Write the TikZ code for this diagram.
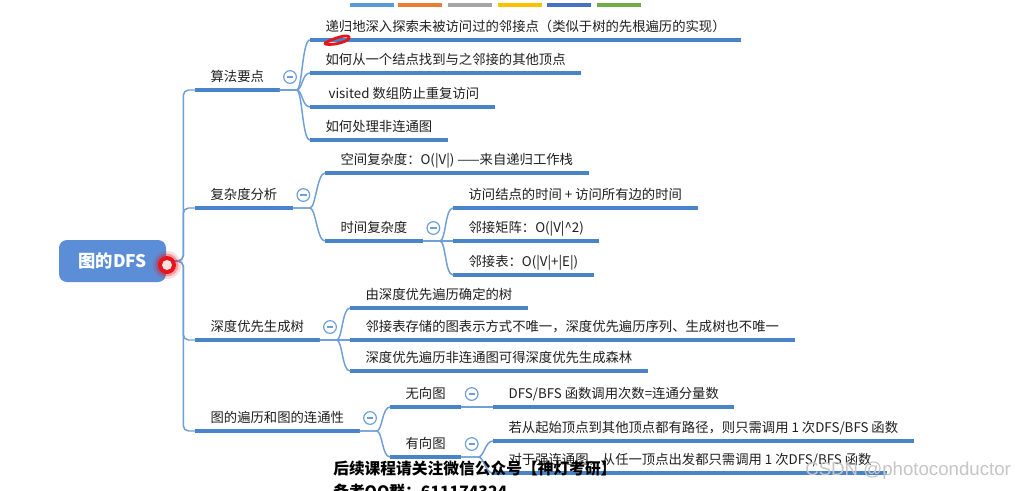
\documentclass[tikz,border=0pt]{standalone}
\usepackage{fontspec}
\setmainfont{Noto Sans CJK SC}
\newfontfamily\wmfont{Liberation Sans}
\usetikzlibrary{calc}
\definecolor{dfsRootFill}{HTML}{5B8ED6}
\definecolor{dfsLine}{HTML}{4A84C8}
\definecolor{dfsThin}{HTML}{6F9FD8}
\definecolor{dfsPen}{HTML}{E8141B}
\definecolor{barBlue}{HTML}{5B9BD5}
\definecolor{barOrange}{HTML}{ED7D31}
\definecolor{barGray}{HTML}{A5A5A5}
\definecolor{barYellow}{HTML}{FFC000}
\definecolor{barNavy}{HTML}{4472C4}
\definecolor{barGreen}{HTML}{70AD47}
\tikzset{
    dfsRoot/.style={
        rectangle,
        rounded corners=6pt,
        fill=dfsRootFill,
        text=white,
        font=\fontsize{13}{15}\selectfont\bfseries,
        minimum width=80.25pt,
        minimum height=31.5pt,
        inner sep=0pt
    },
    % underlined topics
    dfsUline/.style={draw=dfsLine, line width=2.6pt},
    dfsTopic/.style={
        anchor=south west,
        inner xsep=11.5pt,
        inner ysep=6pt,
        text height=8pt,
        text depth=0pt,
        font=\fontsize{10}{12}\selectfont,
        text=black!88,
        append after command={(\tikzlastnode.south west) edge[dfsUline] (\tikzlastnode.south east)}
    },
    % connectors and fold buttons
    dfsLink/.style={draw=dfsThin, line width=1.1pt},
    dfsFold/.style={
        circle, draw=dfsThin, fill=white, line width=0.9pt,
        minimum size=9.5pt, inner sep=0pt,
        path picture={\draw[dfsThin, line width=0.8pt]
            ([xshift=-2.4pt]path picture bounding box.center) -- ([xshift=2.4pt]path picture bounding box.center);}
    },
    dfsMark/.style={font=\fontsize{11.8}{14}\selectfont\bfseries, text=black, anchor=west, inner sep=0pt}
}
\begin{document}
\begin{tikzpicture}[x=0.75pt, y=-0.75pt]
    \useasboundingbox (0,0) rectangle (1027,490);
    \clip (0,0) rectangle (1027,490);
    \fill[white] (0,0) rectangle (1027,490);

    % colour bars at the top
    \foreach \c/\x in {barBlue/350, barOrange/398, barGray/448, barYellow/498, barNavy/547, barGreen/597}
        \fill[\c] (\x,3) rectangle ++(44,4);

    \node[dfsRoot] (root) at (112.5,261) {图的DFS};

    % first level
    \node[dfsTopic] (alg) at (195,90) {算法要点};
    \node[dfsTopic] (cplx) at (195,208) {复杂度分析};
    \node[dfsTopic] (tree) at (195,340) {深度优先生成树};
    \node[dfsTopic] (conn) at (195,431) {图的遍历和图的连通性};

    % algorithm points
    \node[dfsTopic] (a1) at (310,40) {递归地深入探索未被访问过的邻接点（类似于树的先根遍历的实现）};
    \node[dfsTopic] (a2) at (310,73) {如何从一个结点找到与之邻接的其他顶点};
    \node[dfsTopic] (a3) at (310,107) {\ visited 数组防止重复访问};
    \node[dfsTopic] (a4) at (310,140) {如何处理非连通图};

    % complexity
    \node[dfsTopic] (space) at (325,173) {空间复杂度：O(|V|) ——来自递归工作栈};
    \node[dfsTopic] (time) at (325,241) {时间复杂度};
    \node[dfsTopic] (t1) at (453,208) {访问结点的时间 + 访问所有边的时间};
    \node[dfsTopic] (t2) at (453,241) {邻接矩阵：O(|V|\^{}2)};
    \node[dfsTopic] (t3) at (453,275) {邻接表：O(|V|+|E|)};

    % spanning tree
    \node[dfsTopic] (s1) at (350,308) {由深度优先遍历确定的树};
    \node[dfsTopic] (s2) at (350,340) {邻接表存储的图表示方式不唯一，深度优先遍历序列、生成树也不唯一};
    \node[dfsTopic] (s3) at (350,371) {深度优先遍历非连通图可得深度优先生成森林};

    % connectivity
    \node[dfsTopic] (undir) at (390,407) {无向图};
    \node[dfsTopic] (dir) at (390,457) {有向图};
    \node[dfsTopic] (u1) at (493,407) {DFS/BFS 函数调用次数=连通分量数};
    \node[dfsTopic] (d1) at (493,441) {若从起始顶点到其他顶点都有路径，则只需调用 1 次DFS/BFS 函数};
    \node[dfsTopic] (d2) at (493,473) {对于强连通图，从任一顶点出发都只需调用 1 次DFS/BFS 函数};

    % trunk from the root
    \foreach \n in {alg, cplx, tree, conn}
        \draw[dfsLink, rounded corners=4pt] (root.east) -- ++(17,0) |- (\n.south west);

    % curved branches
    \foreach \p/\c in {alg/a1, alg/a2, alg/a3, alg/a4, cplx/space, cplx/time, time/t1, time/t2, time/t3,
                       tree/s1, tree/s2, tree/s3, conn/undir, conn/dir, dir/d1, dir/d2}
        \draw[dfsLink] (\p.south east) -- ++(17,0) .. controls +(6,0) and +(-8,0) .. (\c.south west);
    \draw[dfsLink] (undir.south east) -- (u1.south west);

    % fold buttons
    \foreach \p in {alg, cplx, time, tree, conn, undir, dir}
        \node[dfsFold] (fold-\p) at ($(\p.south east)+(10.5,-13)$) {};

    % pointer on the root
    \fill[dfsPen, opacity=0.15] (167,265) circle (14);
    \fill[dfsPen, opacity=0.3] (167,265) circle (11.5);
    \fill[dfsPen] (167,265) circle (9);
    \fill[red!12!white] (167,265) circle (5);

    % pen stroke
    \draw[dfsPen, line width=2.1pt, line cap=round]
        (325,43) .. controls (334,38) and (347,34) .. (349,37)
        .. controls (351,41) and (333,46) .. (325,44);

    % overlaid notes
    \node[dfsMark] (mark1) at (333,468) {后续课程请关注微信公众号【神灯考研】};
    \node[dfsMark] (mark2) at (333,492) {备考QQ群：611174324};
    \node[anchor=west, inner sep=0pt, font=\wmfont\fontsize{14}{16}\selectfont, text=gray!45] (csdn) at (805,471) {CSDN @photoconductor};
\end{tikzpicture}
\end{document}
